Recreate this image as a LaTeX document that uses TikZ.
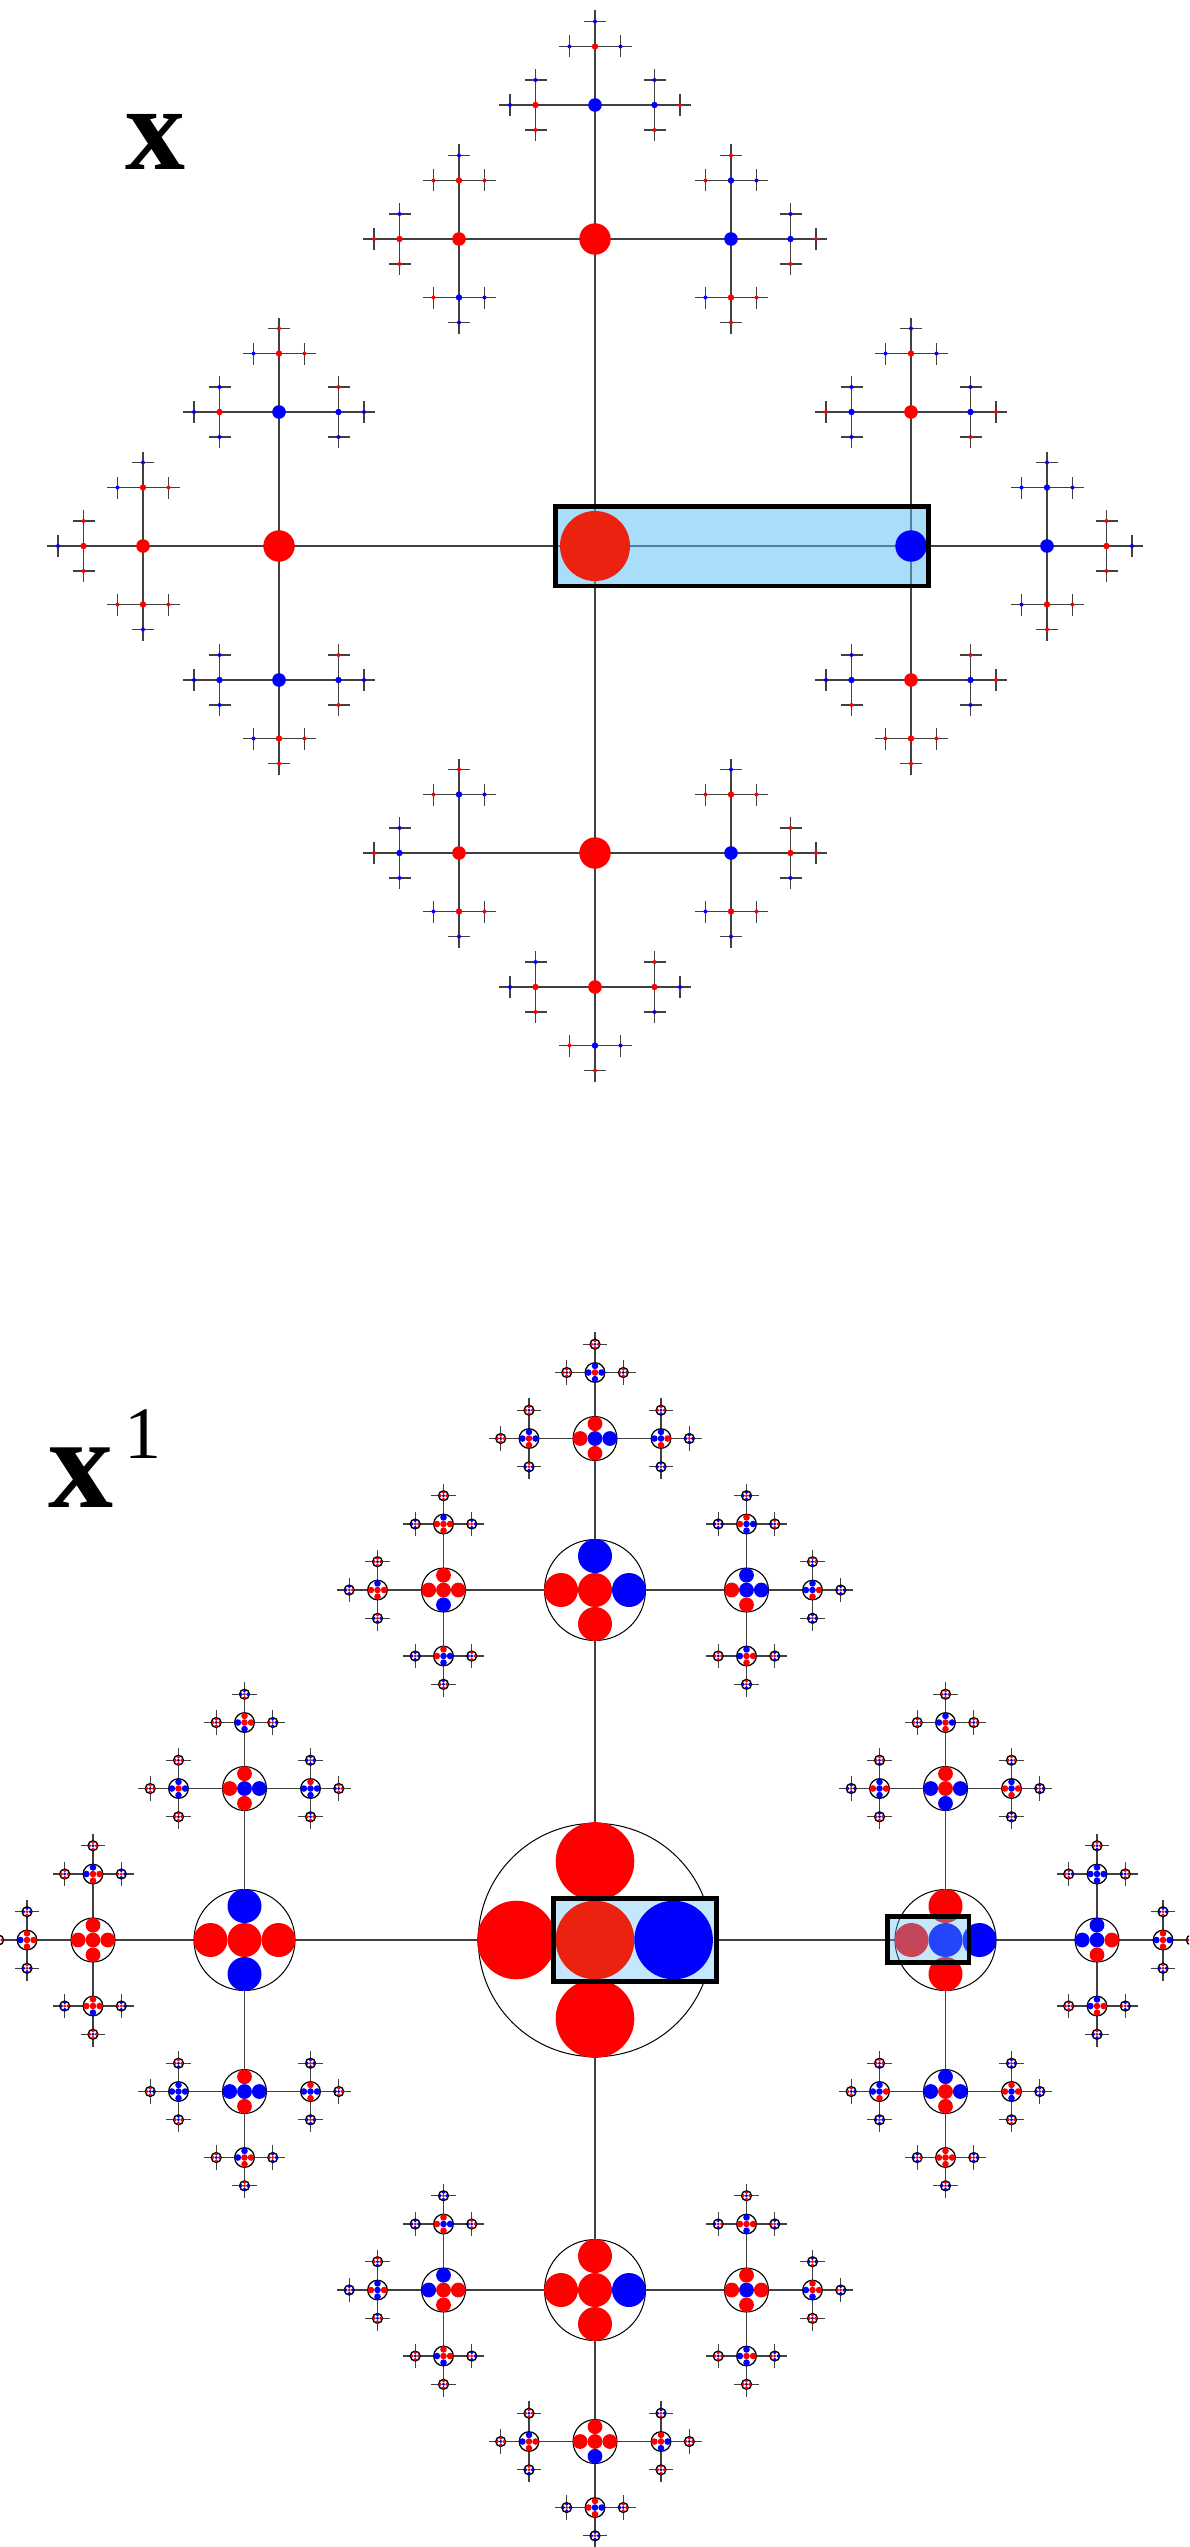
\documentclass[tikz,border=0pt]{standalone}
\usepackage{fontspec}
\setmainfont{Liberation Serif}
\definecolor{pr}{RGB}{255,0,0}
\definecolor{pb}{RGB}{0,0,255}
\definecolor{dullred}{RGB}{236,34,16}
\definecolor{edgegray}{RGB}{64,64,64}
\definecolor{hilite}{RGB}{95,190,244}
\definecolor{hilitelight}{RGB}{196,231,251}
\tikzset{
  edge/.style={draw=edgegray,line width=1.3pt},
  frame/.style={draw=black,line width=4.6pt},
  ring/.style={draw=black,fill=white,line width=1pt},
}
\makeatletter
\newcommand\getcol[2]{\@ifundefined{col@#1}{\edef\thecol{#2}}{\edef\thecol{\csname col@#1\endcsname}}}
\makeatother
\def\cpr{pr}
\newcommand\setcols[1]{\foreach \kpath/\kcol in {#1}{\expandafter\xdef\csname col@\kpath\endcsname{p\kcol}}}
\newcommand\setlx[5]{\expandafter\def\csname lx1\endcsname{#1}\expandafter\def\csname lx2\endcsname{#2}\expandafter\def\csname lx3\endcsname{#3}\expandafter\def\csname lx4\endcsname{#4}\expandafter\def\csname lx5\endcsname{#5}}
\newcommand\setly[5]{\expandafter\def\csname ly1\endcsname{#1}\expandafter\def\csname ly2\endcsname{#2}\expandafter\def\csname ly3\endcsname{#3}\expandafter\def\csname ly4\endcsname{#4}\expandafter\def\csname ly5\endcsname{#5}}
% dot radii (x) and sub-circle radii (x^1)
\expandafter\def\csname rd0\endcsname{35}
\expandafter\def\csname rd1\endcsname{15.7}
\expandafter\def\csname rd2\endcsname{6.8}
\expandafter\def\csname rd3\endcsname{3.2}
\expandafter\def\csname rd4\endcsname{2.0}
\expandafter\def\csname rb0\endcsname{39.3}
\expandafter\def\csname rb1\endcsname{17}
\expandafter\def\csname rb2\endcsname{7.4}
\expandafter\def\csname rb3\endcsname{3.3}
\expandafter\def\csname rb4\endcsname{1.65}
\expandafter\def\csname rw0\endcsname{1}
\expandafter\def\csname rw1\endcsname{1}
\expandafter\def\csname rw2\endcsname{1.1}
\expandafter\def\csname rw3\endcsname{1.3}
\expandafter\def\csname rw4\endcsname{1.4}
% directions
\def\dirsO{L,R,U,D}
\def\dirsL{L,U,D}\def\dirsR{R,U,D}\def\dirsU{U,L,R}\def\dirsD{D,L,R}
\def\sxL{-1}\def\syL{0}\def\sxR{1}\def\syR{0}\def\sxU{0}\def\syU{-1}\def\sxD{0}\def\syD{1}
\def\oppL{R}\def\oppR{L}\def\oppU{D}\def\oppD{U}\def\oppO{X}
\newcount\walkmode
\newcommand\drawnodeA[6]{%
  \getcol{#1}{pr}%
  \ifnum#4=0 \def\thecol{dullred}\fi
  \fill[fill=\thecol] (#2,#3) circle[radius=\csname rd#4\endcsname pt];
}
\newcommand\drawnodeB[6]{%
  \edef\rr{\csname rb#4\endcsname}%
  \filldraw[ring,line width=\csname rw#4\endcsname pt] (#2,#3) circle[radius=2.97*\rr pt];
  \getcol{#1}{pr}\let\owncol\thecol
  \fill[fill=\owncol] (#2,#3) circle[radius=\rr pt];
  \foreach \dr in {L,R,U,D}{%
    \edef\tmpa{\dr}\edef\tmpb{\csname opp#5\endcsname}%
    \ifx\tmpa\tmpb \getcol{#6}{pr}\else \getcol{#1\dr}{\ifx\owncol\cpr pb\else pr\fi}\fi
    \pgfmathsetmacro\cx{#2+(\csname sx\dr\endcsname)*2*\rr}%
    \pgfmathsetmacro\cy{#3+(\csname sy\dr\endcsname)*2*\rr}%
    \fill[fill=\thecol] (\cx,\cy) circle[radius=\rr pt];
  }%
}
\newcommand\walk[6]{% path, x, y, level, incoming dir, parent path
  \ifnum#4<5
    \ifnum\walkmode=1 \drawnodeA{#1}{#2}{#3}{#4}{#5}{#6}\fi
    \ifnum\walkmode=2 \drawnodeB{#1}{#2}{#3}{#4}{#5}{#6}\fi
    \edef\dl{\csname dirs#5\endcsname}%
    \foreach \dr in \dl {%
      \pgfmathsetmacro\nl{int(#4+1)}%
      \pgfmathsetmacro\nx{#2+(\csname sx\dr\endcsname)*(\csname lx\nl\endcsname)}%
      \pgfmathsetmacro\ny{#3+(\csname sy\dr\endcsname)*(\csname ly\nl\endcsname)}%
      \ifnum\walkmode=0
        \coordinate (\fig#1\dr) at (\nx,\ny);
        \draw[edge] (\fig#1) -- (\fig#1\dr);
      \fi
      \edef\nxt{\noexpand\walk{#1\dr}{\nx}{\ny}{\nl}{\dr}{#1}}\nxt
    }%
  \fi
}
\setcols{O/r,OL/r,OR/b,OU/r,OD/r,
OUL/r,OUR/b,OUU/b,OLL/r,OLU/b,OLD/b,ORR/b,ORU/r,ORD/r,ODL/r,ODR/b,ODD/r,
OUUL/r,OUUR/b,OUUU/r,OULL/r,OULU/r,OULD/b,OURR/b,OURU/b,OURD/r,
OLLL/r,OLLU/r,OLLD/r,OLUL/r,OLUR/b,OLUU/r,OLDL/b,OLDR/b,OLDD/r,
ORRR/r,ORRU/b,ORRD/r,ORUL/b,ORUR/b,ORUU/r,ORDL/b,ORDR/b,ORDD/r,
ODLL/b,ODLU/b,ODLD/r,ODRR/r,ODRU/r,ODRD/r,ODDL/r,ODDR/r,ODDD/b}
\setcols{OUUUL/b,OUUUR/b,OUUUU/b,OUULL/b,OUULU/b,OUULD/r,OUURR/r,OUURU/b,OUURD/r,
OULLL/r,OULLU/b,OULLD/r,OULUL/r,OULUR/r,OULUU/b,OULDL/r,OULDR/b,OULDD/b,
OURUL/r,OURUR/b,OURUU/r,OURRR/r,OURRU/b,OURRD/r,OURDL/b,OURDR/r,OURDD/r,
OLUUL/b,OLUUR/r,OLUUU/r,OLULL/b,OLULU/b,OLULD/b,OLURR/b,OLURU/r,OLURD/b,
OLLUL/b,OLLUR/r,OLLUU/b,OLLLL/b,OLLLU/r,OLLLD/r,OLLDL/r,OLLDR/r,OLLDD/b,
OLDLL/b,OLDLU/b,OLDLD/b,OLDRR/b,OLDRU/r,OLDRD/r,OLDDL/b,OLDDR/r,OLDDD/r,
ORUUL/b,ORUUR/b,ORUUU/b,ORULL/r,ORULU/b,ORULD/b,ORURR/r,ORURU/b,ORURD/r,
ORRUL/b,ORRUR/b,ORRUU/b,ORRRR/b,ORRRU/r,ORRRD/r,ORRDL/b,ORRDR/r,ORRDD/r,
ORDLL/b,ORDLU/b,ORDLD/r,ORDRR/r,ORDRU/r,ORDRD/b,ORDDL/r,ORDDR/r,ORDDD/r,
ODLUL/r,ODLUR/b,ODLUU/r,ODLLL/r,ODLLU/b,ODLLD/b,ODLDL/b,ODLDR/r,ODLDD/b,
ODRUL/r,ODRUR/r,ODRUU/b,ODRRR/r,ODRRU/r,ODRRD/b,ODRDL/b,ODRDR/r,ODRDD/b,
ODDLL/b,ODDLU/b,ODDLD/r,ODDRR/b,ODDRU/r,ODDRD/b,ODDDL/r,ODDDR/b,ODDDD/r}
\begin{document}
\begin{tikzpicture}[x=1pt,y=-1pt]
\useasboundingbox (0,0) rectangle (1189,2547);
\clip (0,0) rectangle (1189,2547);
% ---------- figure x ----------
\def\fig{a}
\setlx{316}{136}{59.5}{25.5}{11}\setly{307}{134}{58.5}{25}{11}
\coordinate (aO) at (595,546);
\walkmode=0 \walk{O}{595}{546}{0}{O}{}
\fill[hilite,opacity=.53] (555.5,506.5) rectangle (928.5,586);
\walkmode=1 \walk{O}{595}{546}{0}{O}{}
\draw[frame] (555.5,506.5) rectangle (928.5,586);
\node[anchor=base west,inner sep=0pt,font=\fontsize{120}{120}\selectfont\bfseries] (labx) at (125,170) {x};
% ---------- figure x^1 ----------
\def\fig{b}
\setlx{350.5}{151.5}{66}{28.3}{12.2}\setly{350}{151.5}{66}{28.3}{12.2}
\coordinate (bO) at (595,1940);
\walkmode=0 \walk{O}{595}{1940}{0}{O}{}
\walkmode=2 \walk{O}{595}{1940}{0}{O}{}
\fill[hilitelight] (553.6,1898.4) rectangle (716.3,1981.6);
\fill[dullred] (595,1940) circle[radius=39.3pt];
\fill[pb] (673.6,1940) circle[radius=39.3pt];
\draw[frame] (553.6,1898.4) rectangle (716.3,1981.6);
\fill[hilite,opacity=.37] (887.6,1916.3) rectangle (968.9,1962.4);
\draw[frame] (887.6,1916.3) rectangle (968.9,1962.4);
\node[anchor=base west,inner sep=0pt,font=\fontsize{130}{130}\selectfont\bfseries] (labxa) at (48,1507) {x};
\node[anchor=base west,inner sep=0pt,font=\fontsize{74}{74}\selectfont] (labsup) at (124,1458) {1};
\end{tikzpicture}
\end{document}
